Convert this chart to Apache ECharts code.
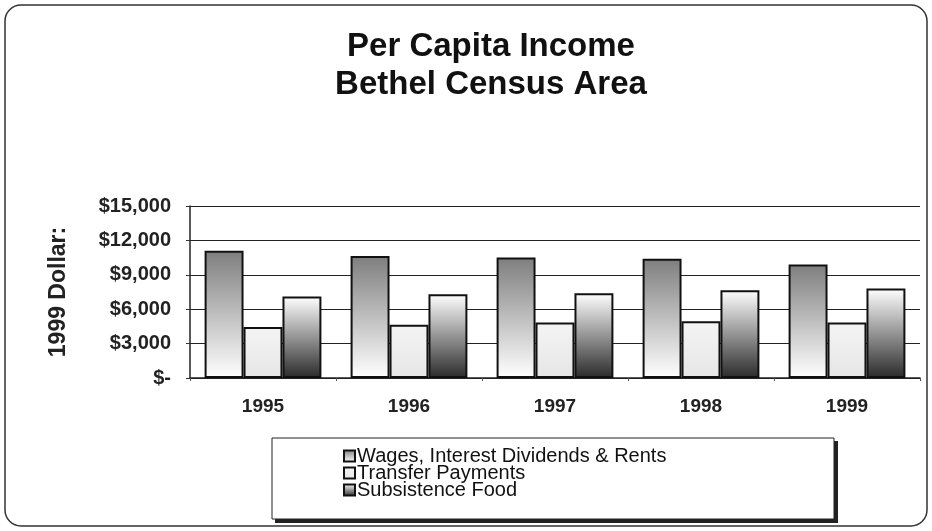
<!DOCTYPE html>
<html>
<head>
<meta charset="utf-8">
<script src="https://cdn.jsdelivr.net/npm/echarts@6/dist/echarts.min.js"></script>
<style>
  html, body { margin: 0; padding: 0; background: #fff; }
  #chartBox { width: 932px; height: 531px; }
</style>
</head>
<body>
<div id="chartBox"></div>
<script>
// 数据
const years = ['1995', '1996', '1997', '1998', '1999'];
const wages = [11100, 10650, 10500, 10400, 9900];
const transfer = [4450, 4650, 4850, 4950, 4850];
const subsistence = [7100, 7300, 7400, 7650, 7800];
const yTickLabels = ['$-', '$3,000', '$6,000', '$9,000', '$12,000', '$15,000'];
const seriesNames = ['Wages, Interest Dividends & Rents', 'Transfer Payments', 'Subsistence Food'];

const font = 'Liberation Sans, Arial, sans-serif';

const grad = (top, bottom) => new echarts.graphic.LinearGradient(0, 0, 0, 1, [
  { offset: 0, color: top },
  { offset: 1, color: bottom }
]);

const barStyle = (fill) => ({
  color: fill,
  borderColor: '#111',
  borderWidth: 2
});

const myChart = echarts.init(document.getElementById('chartBox'));
myChart.setOption({
  backgroundColor: '#fff',
  animation: false,
  title: {
    text: 'Per Capita Income\nBethel Census Area',
    left: 486,
    textAlign: 'center',
    top: 23,
    textStyle: { fontFamily: font, fontSize: 33, fontWeight: 'bold', color: '#111', lineHeight: 38 }
  },
  graphic: [
    {
      type: 'rect',
      shape: { x: 5, y: 5, width: 922, height: 521, r: 16 },
      style: { fill: 'none', stroke: '#333', lineWidth: 1.5 }
    },
    {
      type: 'rect',
      shape: { x: 275, y: 441, width: 563, height: 82 },
      style: { fill: '#222' }
    },
    {
      type: 'rect',
      shape: { x: 272, y: 438, width: 562, height: 81 },
      style: { fill: '#fff', stroke: '#222', lineWidth: 1 }
    }
  ],
  legend: {
    orient: 'vertical',
    left: 338,
    top: 441,
    itemGap: -3,
    itemWidth: 11,
    itemHeight: 11,
    icon: 'rect',
    itemStyle: { borderColor: '#111', borderWidth: 2 },
    textStyle: { fontFamily: font, fontSize: 20, lineHeight: 17, color: '#111', padding: [0, 0, 0, -3] },
    data: seriesNames
  },
  grid: { left: 190, right: 12, top: 206, bottom: 153 },
  xAxis: {
    type: 'category',
    data: years,
    axisLine: { lineStyle: { color: '#222', width: 1.5 } },
    axisTick: { show: true, length: 3, lineStyle: { color: '#555' } },
    axisLabel: { fontFamily: font, fontSize: 19, fontWeight: 'bold', color: '#222', margin: 19 }
  },
  yAxis: {
    type: 'value',
    min: 0,
    max: 15000,
    interval: 3000,
    name: '1999 Dollar:',
    nameLocation: 'middle',
    nameGap: 120,
    nameMoveOverlap: false,
    nameTextStyle: { fontFamily: font, fontSize: 23, fontWeight: 'bold', color: '#222' },
    axisLine: { show: true, lineStyle: { color: '#222', width: 1.5 } },
    axisTick: { show: true, length: 4, inside: false, lineStyle: { color: '#333' } },
    splitLine: { lineStyle: { color: '#222', width: 1.2 } },
    axisLabel: {
      fontFamily: font, fontSize: 20, fontWeight: 'bold', color: '#222', margin: 19,
      formatter: (v) => yTickLabels[Math.round(v / 3000)]
    }
  },
  series: [
    {
      name: seriesNames[0],
      type: 'bar',
      data: wages,
      barGap: '0%',
      barCategoryGap: '20%',
      itemStyle: barStyle(grad('#7e7e7e', '#ffffff'))
    },
    {
      name: seriesNames[1],
      type: 'bar',
      data: transfer,
      itemStyle: barStyle(grad('#f4f4f4', '#e6e6e6'))
    },
    {
      name: seriesNames[2],
      type: 'bar',
      data: subsistence,
      itemStyle: barStyle(grad('#ffffff', '#2a2a2a'))
    }
  ]
});
</script>
</body>
</html>
